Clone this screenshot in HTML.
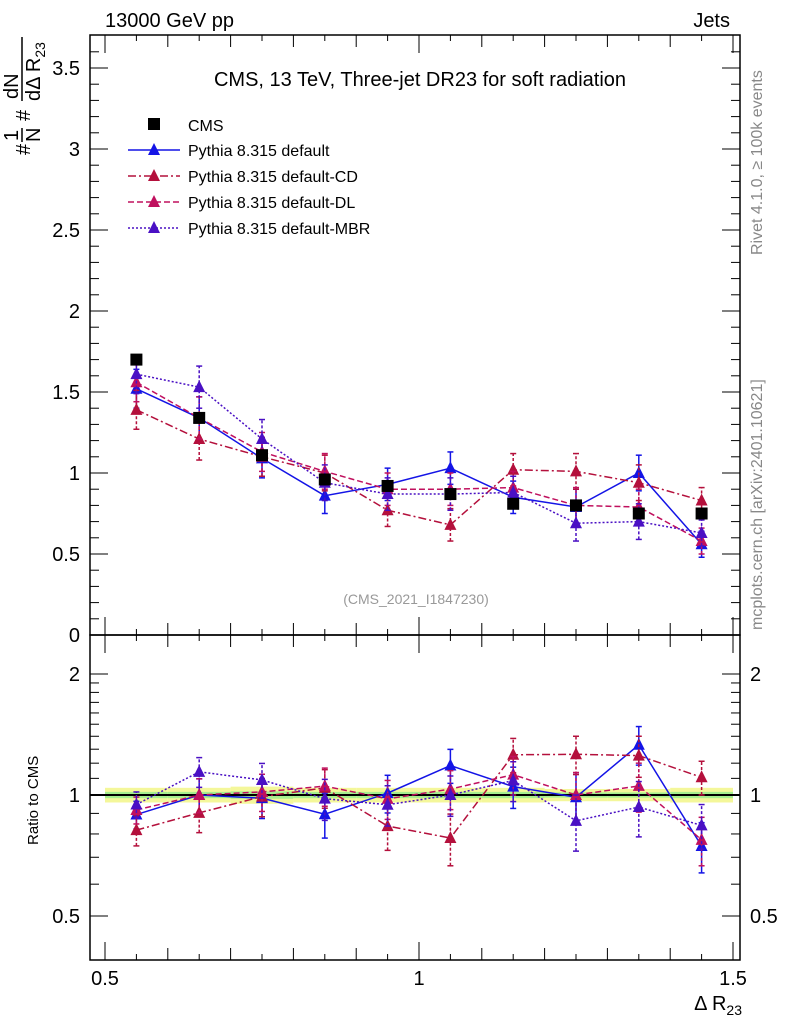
<!DOCTYPE html>
<html><head><meta charset="utf-8"><style>
body{margin:0;background:#fff;font-family:"Liberation Sans",sans-serif}
</style></head><body>
<svg id="c" width="786" height="1024" xmlns="http://www.w3.org/2000/svg" font-family="Liberation Sans, sans-serif">
<rect width="786" height="1024" fill="#fff"/>
<text x="105" y="27" font-size="20">13000 GeV pp</text>
<text x="730" y="27" font-size="20" text-anchor="end">Jets</text>
<text x="420" y="86" font-size="20" text-anchor="middle">CMS, 13 TeV, Three-jet DR23 for soft radiation</text>
<text x="416" y="604" font-size="14" fill="#999" text-anchor="middle">(CMS_2021_I1847230)</text>
<text transform="translate(762,255) rotate(-90)" font-size="16" fill="#888">Rivet 4.1.0, ≥ 100k events</text>
<text transform="translate(762,630) rotate(-90)" font-size="16" fill="#888">mcplots.cern.ch [arXiv:2401.10621]</text>
<g transform="translate(0,155) rotate(-90)" font-size="20">
<text x="0" y="30">#</text>
<text x="14" y="18">1</text>
<line x1="13" x2="27" y1="22" y2="22" stroke="#000" stroke-width="1.5"/>
<text x="13" y="40">N</text>
<text x="34" y="30">#</text>
<text x="56" y="18">dN</text>
<line x1="54" x2="118" y1="22" y2="22" stroke="#000" stroke-width="1.5"/>
<text x="54" y="40">dΔ R<tspan font-size="14" dy="5">23</tspan></text>
</g>
<text transform="translate(38,845) rotate(-90)" font-size="15">Ratio to CMS</text>
<text x="742" y="1010" font-size="20" text-anchor="end">Δ R<tspan font-size="14" dy="5">23</tspan></text>
<g id="g"></g>
</svg>
<script>
const xs=[0.55,0.65,0.75,0.85,0.95,1.05,1.15,1.25,1.35,1.45];
const cms=[1.70,1.34,1.11,0.96,0.92,0.87,0.81,0.80,0.75,0.75];
const def=[1.52,1.34,1.09,0.86,0.93,1.03,0.85,0.79,1.00,0.56];
const cd=[1.39,1.21,1.10,1.00,0.77,0.68,1.02,1.01,0.94,0.83];
const dl=[1.56,1.34,1.13,1.01,0.90,0.90,0.91,0.80,0.79,0.58];
const mbr=[1.61,1.53,1.21,0.94,0.87,0.87,0.88,0.69,0.70,0.63];
const modelErr=[0.12,0.13,0.12,0.11,0.10,0.10,0.10,0.11,0.11,0.08];
const cmsRelErr=[0.03,0.03,0.035,0.03,0.03,0.03,0.03,0.025,0.025,0.03];
const yTicks=[0,0.5,1,1.5,2,2.5,3,3.5];
const rTicks=[0.5,1,2];
const xTicks=[0.5,1,1.5];
const NS="http://www.w3.org/2000/svg",G=document.getElementById('g');
const L=90,R=740,T=35,M=635,B=960;
const X=v=>105+(v-0.5)*628;
const Y=v=>635-v*162;
const RY=v=>795-Math.log2(v)*121;
function el(t,a,p){const e=document.createElementNS(NS,t);for(const k in a)e.setAttribute(k,a[k]);(p||G).appendChild(e);return e;}
xs.forEach((x,i)=>{const e=cmsRelErr[i];
 let b=el('rect',{x:X(x-0.05),y:RY(1+e*1.4),width:X(0.6)-X(0.5),height:RY(1-e*1.4)-RY(1+e*1.4),fill:'#f4f79a'});
 
 
 let g2=el('rect',{x:X(x-0.05),y:RY(1+e*0.6),width:X(0.6)-X(0.5),height:RY(1-e*0.6)-RY(1+e*0.6),fill:'#a6ee8e'});
 
 });
let l1=el('line',{x1:L,x2:R,y1:RY(1),y2:RY(1),stroke:'#000','stroke-width':2});


let f1=el('rect',{x:L,y:T,width:R-L,height:M-T,fill:'none',stroke:'#000','stroke-width':1.5});


let f2=el('rect',{x:L,y:M,width:R-L,height:B-M,fill:'none',stroke:'#000','stroke-width':1.5});


for(let v=0;v<=3.7;v+=0.1){const maj=Math.abs(v*2-Math.round(v*2))<1e-6;const w=maj?18:9;const y=Y(v);
el('line',{x1:L,x2:L+w,y1:y,y2:y,stroke:'#000'});el('line',{x1:R-w,x2:R,y1:y,y2:y,stroke:'#000'});}
yTicks.forEach(v=>{let t=el('text',{x:80,y:Y(v)+7,'font-size':20,'text-anchor':'end'});t.textContent=String(v);

});
[0.5,0.6,0.7,0.8,0.9,1,1.1,1.2,1.3,1.4,1.5,1.6,1.7,1.8,1.9,2].forEach(v=>{const maj=rTicks.includes(v);const w=maj?18:9;const y=RY(v);
el('line',{x1:L,x2:L+w,y1:y,y2:y,stroke:'#000'});el('line',{x1:R-w,x2:R,y1:y,y2:y,stroke:'#000'});});
rTicks.forEach(v=>{let t=el('text',{x:80,y:RY(v)+7,'font-size':20,'text-anchor':'end'});t.textContent=String(v);


let t2=el('text',{x:750,y:RY(v)+7,'font-size':20});t2.textContent=String(v);

});
for(let i=0;i<=21;i++){const v=0.45+i*0.05;const x=X(v);if(x<L||x>R)continue;const maj=Math.abs(v*10-Math.round(v*10))<1e-6;const w=xTicks.some(t=>Math.abs(t-v)<1e-6)?18:(maj?12:6);
[M,B].forEach(yb=>el('line',{x1:x,x2:x,y1:yb,y2:yb-w,stroke:'#000'}));
[T,M].forEach(yt=>el('line',{x1:x,x2:x,y1:yt,y2:yt+w,stroke:'#000'}));}
xTicks.forEach(v=>{let t=el('text',{x:X(v),y:985,'font-size':20,'text-anchor':'middle'});t.textContent=String(v);

});
const series=[
 {n:'default',d:def,c:'#1414e6',dash:'none',lab:'Pythia 8.315 default'},
 {n:'default-cd',d:cd,c:'#b4103c',dash:'8,3,2,3',lab:'Pythia 8.315 default-CD'},
 {n:'default-dl',d:dl,c:'#c0105e',dash:'6,3',lab:'Pythia 8.315 default-DL'},
 {n:'default-mbr',d:mbr,c:'#4a10c4',dash:'2,2',lab:'Pythia 8.315 default-MBR'}];
function tri(x,y,c,nm){let p=el('polygon',{points:`${x},${y-7} ${x-6},${y+5} ${x+6},${y+5}`,fill:c});

}
series.forEach(s=>{
 const pts=xs.map((x,i)=>X(x)+','+Y(s.d[i])).join(' ');
 let pl=el('polyline',{points:pts,fill:'none',stroke:s.c,'stroke-width':1.5,'stroke-dasharray':s.dash});
 
 
 const rp=xs.map((x,i)=>X(x)+','+RY(s.d[i]/cms[i])).join(' ');
 let rl=el('polyline',{points:rp,fill:'none',stroke:s.c,'stroke-width':1.5,'stroke-dasharray':s.dash});
 
 
 xs.forEach((x,i)=>{const e=modelErr[i],v=s.d[i],r=v/cms[i];
  el('line',{x1:X(x),x2:X(x),y1:Y(v-e),y2:Y(v+e),stroke:s.c,'stroke-width':1.5,'stroke-dasharray':s.dash=='none'?'none':'3,2'});
  el('line',{x1:X(x),x2:X(x),y1:RY(r*(1-e/v)),y2:RY(r*(1+e/v)),stroke:s.c,'stroke-width':1.5,'stroke-dasharray':s.dash=='none'?'none':'3,2'});
  [Y(v-e),Y(v+e),RY(r*(1-e/v)),RY(r*(1+e/v))].forEach(yy=>el('line',{x1:X(x)-3,x2:X(x)+3,y1:yy,y2:yy,stroke:s.c,'stroke-width':1.5}));
  tri(X(x),Y(v),s.c,s.n+'-point');tri(X(x),RY(r),s.c,s.n+'-ratio-point');});
});
xs.forEach((x,i)=>{let r=el('rect',{x:X(x)-6,y:Y(cms[i])-6,width:12,height:12,fill:'#000'});

});
let lg=el('g',{});
el('rect',{x:148,y:118,width:12,height:12,fill:'#000'},lg);
let t0=el('text',{x:188,y:131,'font-size':16},lg);t0.textContent='CMS';
series.forEach((s,k)=>{const y=150+k*26;
 el('line',{x1:128,x2:180,y1:y,y2:y,stroke:s.c,'stroke-width':1.5,'stroke-dasharray':s.dash},lg);
 el('polygon',{points:`154,${y-7} 148,${y+5} 160,${y+5}`,fill:s.c},lg);
 let t=el('text',{x:188,y:y+6,'font-size':16},lg);t.textContent=s.lab;
 
 });
</script>
</body></html>
